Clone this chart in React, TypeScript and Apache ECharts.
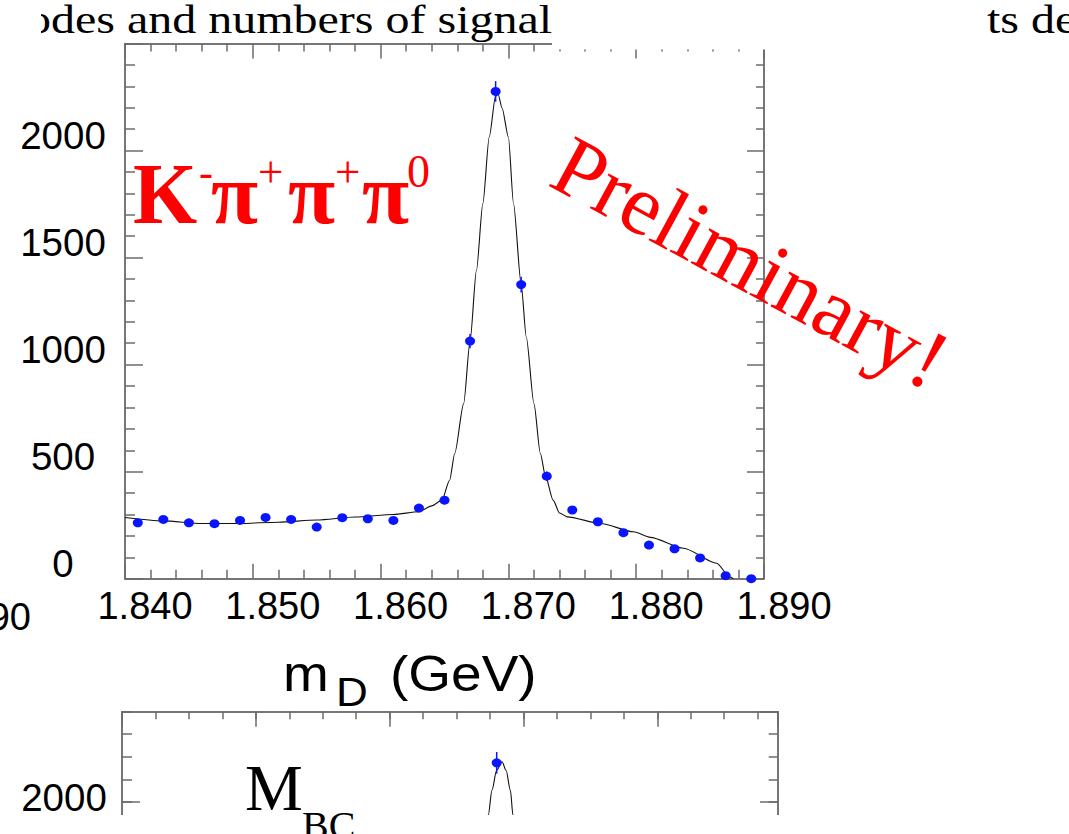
import { useEffect, useRef } from "react";
import * as echarts from "echarts";

// K- pi+ pi+ pi0 invariant-mass spectrum (events per 2 MeV bin)
const massBins = [1.841, 1.843, 1.845, 1.847, 1.849, 1.851, 1.853, 1.855, 1.857, 1.859, 1.861, 1.863, 1.865, 1.867, 1.869, 1.871, 1.873, 1.875, 1.877, 1.879, 1.881, 1.883, 1.885, 1.887, 1.889];
const eventCounts = [261, 277, 261, 257, 272, 286, 277, 241, 285, 280, 272, 330, 367, 1110, 2276, 1374, 479, 321, 266, 215, 157, 140, 97, 14, 0];
const countErrors = [16, 17, 16, 16, 16, 17, 17, 16, 17, 17, 16, 18, 19, 33, 48, 37, 22, 18, 16, 15, 13, 12, 10, 4, 1];

// fitted signal + background curve
const fitMass = [1.84, 1.843, 1.846, 1.849, 1.852, 1.855, 1.858, 1.861, 1.863, 1.864, 1.8648, 1.8654, 1.8658, 1.8665, 1.867, 1.8675, 1.868, 1.8685, 1.869, 1.8692, 1.8695, 1.87, 1.8704, 1.871, 1.8714, 1.872, 1.8725, 1.8729, 1.8735, 1.874, 1.8746, 1.8772, 1.8798, 1.8811, 1.8837, 1.8863, 1.8873, 1.8876];
const fitCounts = [286, 270, 258, 258, 264, 274, 288, 300, 313, 340, 367, 460, 585, 818, 1110, 1440, 1752, 2063, 2255, 2262, 2200, 2063, 1752, 1374, 1129, 818, 585, 479, 367, 307, 289, 258, 219, 193, 142, 72, 9, 0];

// beam-constrained mass panel (only its top part is on the page)
const mbcBins = [1.868];
const mbcCounts = [2173];
const mbcErrors = [48];
const mbcFitMass = [1.867, 1.86737, 1.86765, 1.868, 1.8684, 1.8687, 1.86902, 1.86922, 1.8695];
const mbcFitCounts = [1840, 1941, 2052, 2140, 2178, 2140, 2052, 1941, 1800];
const mbcShownLabels = [2000];

const SANS = "Liberation Sans";
const SERIF = "Liberation Serif";
const FRAME = "#4a4a4a";
const TICK = "#6b6b6b";
const RED = "#ff0000";
const BLUE = "#0a14ff";

const frameLine = { show: true, onZero: false, lineStyle: { color: FRAME, width: 1.5 } };
const noLine = { show: false, onZero: false };
const ticks = (length: number) => ({ show: true, inside: true, length, lineStyle: { color: TICK, width: 1.5 } });
const minor = (splitNumber: number, length: number) => ({ show: true, splitNumber, length, lineStyle: { color: TICK, width: 1.5 } });
const noLabel = { show: false };
const noSplit = { show: false };

const errorBars = (xi: number, yi: number) => ({
  type: "custom",
  xAxisIndex: xi,
  yAxisIndex: yi,
  z: 3,
  renderItem: (_p: any, api: any) => {
    const x = api.value(0);
    const y = api.value(1);
    const e = api.value(2);
    const a = api.coord([x, y + e]);
    const b = api.coord([x, y - e]);
    return {
      type: "line",
      shape: { x1: a[0], y1: a[1], x2: b[0], y2: b[1] },
      style: { stroke: BLUE, lineWidth: 1.5 },
    };
  },
});

export default function App() {
  const ref = useRef<HTMLDivElement>(null);

  useEffect(() => {
    if (!ref.current) return;
    const chart = echarts.init(ref.current, undefined, { renderer: "svg" });

    const txt = (text: string, x: number, y: number, size: number, family: string, color: string, extra: any = {}) => {
      const { align, fontWeight, ...rest } = extra;
      return {
        type: "text",
        x,
        y,
        z: 101,
        ...rest,
        style: {
          text,
          fontSize: size,
          fontFamily: family,
          fontWeight: fontWeight || "normal",
          fill: color,
          align: align || "left",
          verticalAlign: "middle",
        },
      };
    };

    chart.setOption({
      animation: false,
      backgroundColor: "#ffffff",
      grid: [
        { left: 125, top: 43.5, width: 639, height: 535.2, outerBoundsMode: "none", containLabel: false },
        { left: 122, top: 711.7, width: 655.7, height: 540.7, outerBoundsMode: "none", containLabel: false },
      ],
      xAxis: [
        {
          type: "value", gridIndex: 0, position: "bottom", min: 1.84, max: 1.89, interval: 0.01,
          axisLine: frameLine, axisTick: ticks(15), minorTick: minor(5, 9), splitLine: noSplit, minorSplitLine: noSplit,
          axisLabel: {
            show: true, formatter: (v: number) => v.toFixed(3), fontFamily: SANS, fontSize: 38, color: "#000",
            margin: 8, padding: [0, 0, 0, 40],
          },
        },
        {
          type: "value", gridIndex: 0, position: "top", min: 1.84, max: 1.89, interval: 0.01,
          axisLine: frameLine, axisTick: ticks(15), minorTick: minor(5, 8), splitLine: noSplit, axisLabel: noLabel,
        },
        {
          type: "value", gridIndex: 1, position: "top", min: 1.84, max: 1.889, interval: 0.01,
          axisLine: frameLine, axisTick: ticks(15), splitLine: noSplit, axisLabel: noLabel,
        },
        {
          type: "value", gridIndex: 1, position: "top", min: 1.84, max: 1.889, interval: 0.0025,
          axisLine: noLine, axisTick: ticks(7.5), splitLine: noSplit, axisLabel: noLabel,
        },
      ],
      yAxis: [
        {
          type: "value", gridIndex: 0, position: "left", min: 0, max: 2500, interval: 500,
          axisLine: frameLine, axisTick: ticks(18), minorTick: minor(5, 10), splitLine: noSplit, minorSplitLine: noSplit,
          axisLabel: {
            show: true, formatter: (v: number) => String(v), fontFamily: SANS, fontSize: 38.5, color: "#000",
            align: "center", verticalAlign: "bottom", lineHeight: 30, margin: 62, showMaxLabel: false,
          },
        },
        {
          type: "value", gridIndex: 0, position: "right", min: 0, max: 2500, interval: 500,
          axisLine: frameLine, axisTick: ticks(17), minorTick: minor(5, 8), splitLine: noSplit, axisLabel: noLabel,
        },
        {
          type: "value", gridIndex: 1, position: "left", min: 0, max: 2400, interval: 500,
          axisLine: frameLine, axisTick: ticks(18), splitLine: noSplit,
          axisLabel: {
            show: true,
            formatter: (v: number) => (mbcShownLabels.includes(v) ? String(v) : ""),
            fontFamily: SANS, fontSize: 38.5, color: "#000",
            align: "center", verticalAlign: "bottom", lineHeight: 8, margin: 58, showMaxLabel: false,
          },
        },
        {
          type: "value", gridIndex: 1, position: "left", min: 0, max: 2400, interval: 100,
          axisLine: noLine, axisTick: ticks(10), splitLine: noSplit, axisLabel: noLabel,
        },
        {
          type: "value", gridIndex: 1, position: "right", min: 0, max: 2400, interval: 500,
          axisLine: frameLine, axisTick: ticks(17.7), splitLine: noSplit, axisLabel: noLabel,
        },
        {
          type: "value", gridIndex: 1, position: "right", min: 0, max: 2400, interval: 100,
          axisLine: noLine, axisTick: ticks(9), splitLine: noSplit, axisLabel: noLabel,
        },
      ],
      series: [
        {
          type: "line", xAxisIndex: 0, yAxisIndex: 0, z: 2,
          data: fitMass.map((m, i) => [m, fitCounts[i]]),
          showSymbol: false, symbol: "none", smooth: 0.25, smoothMonotone: "x",
          lineStyle: { color: "#111111", width: 1.1 },
        },
        { ...errorBars(0, 0), data: massBins.map((m, i) => [m, eventCounts[i], countErrors[i]]) },
        {
          type: "scatter", xAxisIndex: 0, yAxisIndex: 0, z: 4,
          data: massBins.map((m, i) => [m, eventCounts[i]]),
          symbol: "circle", symbolSize: [10, 9], itemStyle: { color: BLUE, opacity: 1 },
        },
        {
          type: "line", xAxisIndex: 2, yAxisIndex: 2, z: 2,
          data: mbcFitMass.map((m, i) => [m, mbcFitCounts[i]]),
          showSymbol: false, symbol: "none", smooth: 0.3, smoothMonotone: "x",
          lineStyle: { color: "#111111", width: 1.1 },
        },
        { ...errorBars(2, 2), data: mbcBins.map((m, i) => [m, mbcCounts[i], mbcErrors[i]]) },
        {
          type: "scatter", xAxisIndex: 2, yAxisIndex: 2, z: 4,
          data: mbcBins.map((m, i) => [m, mbcCounts[i]]),
          symbol: "circle", symbolSize: [10, 9], itemStyle: { color: BLUE, opacity: 1 },
        },
      ],
      graphic: [
        // page text above the panels, partly hidden
        { type: "rect", z: 100, shape: { x: 552, y: 0, width: 433, height: 49.5 }, style: { fill: "#ffffff" } },
        txt("odes and numbers of signal", 27, 19.5, 40, SERIF, "#000", { scaleX: 1.2 }),
        { type: "rect", z: 102, shape: { x: 0, y: 0, width: 41, height: 45 }, style: { fill: "#ffffff" } },
        txt("ts detected", 987, 19.5, 40, SERIF, "#000", { scaleX: 1.2 }),

        // decay-mode label
        txt("K", 133, 194, 86, SERIF, RED, { fontWeight: "bold", scaleX: 0.96 }),
        txt("-", 199, 172, 42, SERIF, RED),
        txt("\u03c0", 211, 194, 86, SERIF, RED, { fontWeight: "bold" }),
        txt("+", 258, 172, 45, SERIF, RED),
        txt("\u03c0", 288, 194, 86, SERIF, RED, { fontWeight: "bold" }),
        txt("+", 335, 172, 45, SERIF, RED),
        txt("\u03c0", 362, 194, 86, SERIF, RED, { fontWeight: "bold" }),
        txt("0", 407, 171, 46, SERIF, RED),

        txt("Preliminary!", 560, 159, 86, SERIF, RED, { rotation: -0.497 }),

        // x-axis title
        txt("m", 283, 673.7, 50, SANS, "#000", { scaleX: 1.1 }),
        txt("D", 336, 692, 40, SANS, "#000", { scaleX: 1.1 }),
        txt("(GeV)", 390, 673.7, 50, SANS, "#000", { scaleX: 1.1 }),

        // neighbouring panel's last tick label
        txt("1.890", 31, 617, 38, SANS, "#000", { align: "right" }),

        // lower panel
        txt("M", 245, 788, 65, SERIF, "#000"),
        { type: "rect", z: 100, shape: { x: 100, y: 815, width: 700, height: 19 }, style: { fill: "#ffffff" } },
        txt("BC", 302, 825, 40, SERIF, "#000"),
      ],
    });

    return () => chart.dispose();
  }, []);

  return <div ref={ref} style={{ position: "absolute", left: 0, top: 0, width: 1069, height: 834 }} />;
}
